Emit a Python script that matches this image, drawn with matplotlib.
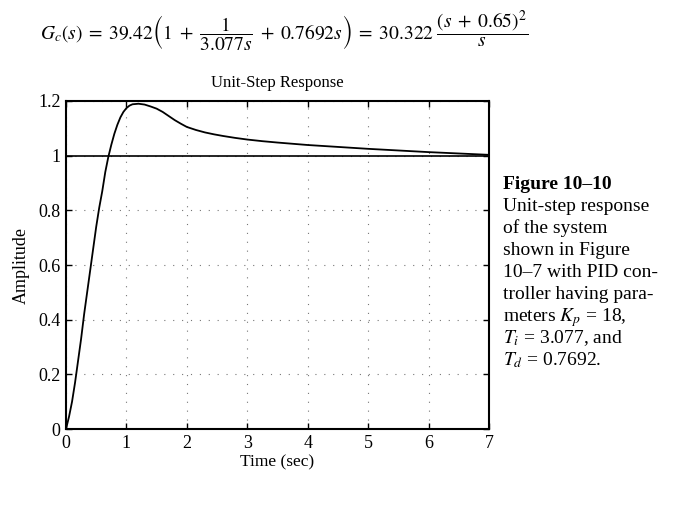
import numpy as np
import matplotlib
matplotlib.use('Agg')
import matplotlib.pyplot as plt

plt.rcParams['font.family'] = ['Liberation Serif', 'DejaVu Serif']
plt.rcParams['mathtext.fontset'] = 'stix'

# 单位阶跃响应
time = [0, 0.05, 0.1, 0.15, 0.2, 0.25, 0.3, 0.35, 0.4, 0.45, 0.5, 0.55, 0.6,
        0.65, 0.7, 0.75, 0.8, 0.85, 0.9, 0.95, 1.0, 1.05, 1.1, 1.2, 1.3, 1.4,
        1.5, 1.6, 1.7, 1.8, 1.9, 2.0, 2.15, 2.3, 2.45, 2.6, 2.8, 3.0, 3.25,
        3.5, 4.0, 4.5, 5.0, 5.5, 6.0, 6.5, 7.0]
amplitude = [0, 0.045, 0.10, 0.17, 0.25, 0.33, 0.42, 0.50, 0.58, 0.66, 0.74,
             0.81, 0.87, 0.94, 0.995, 1.04, 1.08, 1.113, 1.14, 1.16, 1.174,
             1.183, 1.188, 1.19, 1.187, 1.18, 1.172, 1.16, 1.145, 1.13, 1.117,
             1.105, 1.094, 1.085, 1.078, 1.072, 1.065, 1.059, 1.053, 1.048,
             1.039, 1.032, 1.025, 1.019, 1.013, 1.008, 1.003]
xticks = [0, 1, 2, 3, 4, 5, 6, 7]
yticks = [0, 0.2, 0.4, 0.6, 0.8, 1, 1.2]
yticklabels = ['0', '0.2', '0.4', '0.6', '0.8', '1', '1.2']

caption = ['Unit-step response',
           'of the system',
           'shown in Figure',
           '10\u20137 with PID con-',
           'troller having para-',
           r'meters $K_p$ = 18,',
           r'$T_i$ = 3.077, and',
           r'$T_d$ = 0.7692.']

fig = plt.figure(figsize=(6.8, 5.09), dpi=100)
ax = fig.add_axes([66 / 680, 80 / 509, 423 / 680, 328 / 509])

ax.plot(time, amplitude, color='black', lw=1.3)
ax.axhline(1, color='black', lw=1.2)

ax.set_xlim(0, 7)
ax.set_ylim(0, 1.2)
ax.set_xticks(xticks)
ax.set_yticks(yticks)
ax.set_yticklabels(yticklabels)
ax.tick_params(direction='in', top=True, right=True, length=4, width=1,
               labelsize=13, pad=4, colors='black')
for sp in ax.spines.values():
    sp.set_linewidth(1.5)
ax.grid(True, color='#777777', linestyle=(0, (1, 7)), linewidth=0.8)

ax.set_title('Unit-Step Response', fontsize=12, pad=10)
ax.set_xlabel('Time (sec)', fontsize=12.5, labelpad=2)
ax.set_ylabel('Amplitude', fontsize=13, labelpad=6)

# 上方的PID控制器公式
fig.text(284 / 680, 1 - 31 / 509,
         r'$G_c(s)\;=\;39.42\left(1\;+\;\dfrac{1}{3.077s}\;+\;0.7692s\right)'
         r'\;=\;30.322\;\dfrac{(s\;+\;0.65)^2}{s}$',
         ha='center', va='center', fontsize=14)

# 右侧图注
x_cap = 503 / 680
fig.text(x_cap, 1 - 189 / 509, 'Figure 10\u201310', fontsize=14,
         fontweight='bold', va='baseline')
for i, line in enumerate(caption):
    fig.text(x_cap, 1 - (211 + 22 * i) / 509, line, fontsize=14,
             va='baseline')

fig.savefig('out.png', dpi=100)
